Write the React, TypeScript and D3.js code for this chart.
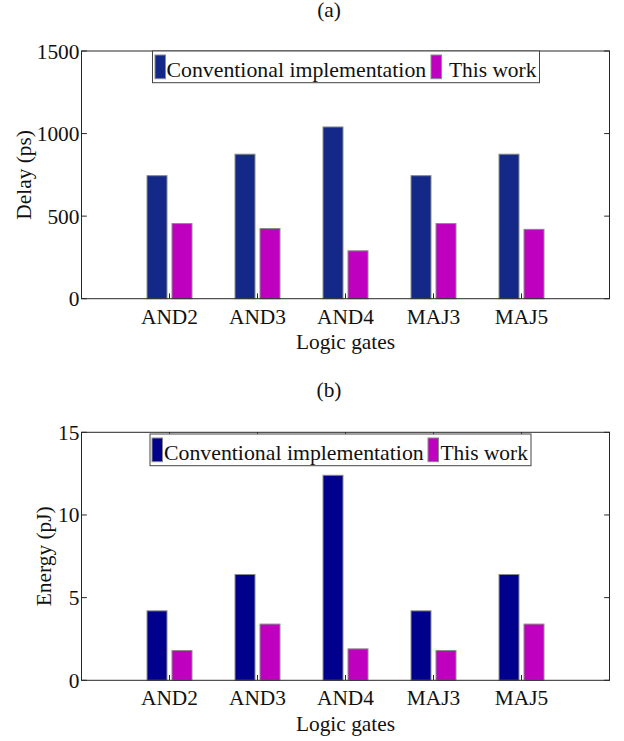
import React from "react";
import * as d3 from "d3";

const categories = ["AND2", "AND3", "AND4", "MAJ3", "MAJ5"];
const delayConventional = [745, 875, 1040, 745, 875];
const delayThisWork = [455, 425, 290, 455, 420];
const energyConventional = [4.2, 6.4, 12.4, 4.2, 6.4];
const energyThisWork = [1.8, 3.4, 1.9, 1.8, 3.4];
const delayTicks = [0, 500, 1000, 1500];
const energyTicks = [0, 5, 10, 15];
const seriesNames = ["Conventional implementation", "This work"];

const FONT = "'Liberation Serif', 'Times New Roman', serif";
const FS = 21.4;
const LEFT = 81.5;
const RIGHT = 609.5;
const TICK = 5.3;
const FRAME = "#262626";

type PanelProps = {
  title: string;
  titleY: number;
  top: number;
  bottom: number;
  conv: number[];
  mine: number[];
  ticks: number[];
  yLabel: string;
  yLabelX: number;
  convColor: string;
  legend: { x0: number; x1: number; y0: number; y1: number; sw1: number; t1: number; sw2: number; t2: number; baseline: number };
};

function Panel(p: PanelProps) {
  const x = d3.scaleLinear().domain([0, categories.length + 1]).range([LEFT, RIGHT]);
  const y = d3.scaleLinear().domain([p.ticks[0], p.ticks[p.ticks.length - 1]]).range([p.bottom, p.top]);
  const step = x(1) - x(0);
  const bw = step * 0.227;
  const off = step * 0.142;
  const L = p.legend;
  const cx = (LEFT + RIGHT) / 2;
  return (
    <g>
      <text x={329} y={p.titleY} textAnchor="middle" fontSize={FS} fontFamily={FONT} fill="#111">{p.title}</text>
      <rect x={LEFT} y={p.top} width={RIGHT - LEFT} height={p.bottom - p.top} fill="#fff" stroke="none" />
      {categories.map((c, i) => (
        <g key={c}>
          <rect x={x(i + 1) - off - bw / 2} y={y(p.conv[i])} width={bw} height={y(0) - y(p.conv[i])} fill={p.convColor} stroke="#8a8a8a" strokeWidth={1} />
          <rect x={x(i + 1) + off - bw / 2} y={y(p.mine[i])} width={bw} height={y(0) - y(p.mine[i])} fill="#BF00BF" stroke="#8a8a8a" strokeWidth={1} />
        </g>
      ))}
      <rect x={LEFT} y={p.top} width={RIGHT - LEFT} height={p.bottom - p.top} fill="none" stroke={FRAME} strokeWidth={1} />
      {categories.map((c, i) => (
        <g key={"t" + c}>
          <line x1={x(i + 1)} x2={x(i + 1)} y1={p.bottom} y2={p.bottom - TICK} stroke={FRAME} />
          <line x1={x(i + 1)} x2={x(i + 1)} y1={p.top} y2={p.top + TICK} stroke={FRAME} />
          <text x={x(i + 1)} y={p.bottom + 25} textAnchor="middle" fontSize={FS} fontFamily={FONT} fill="#111">{c}</text>
        </g>
      ))}
      {p.ticks.map((t) => (
        <g key={"y" + t}>
          <line x1={LEFT} x2={LEFT + TICK} y1={y(t)} y2={y(t)} stroke={FRAME} />
          <line x1={RIGHT} x2={RIGHT - TICK} y1={y(t)} y2={y(t)} stroke={FRAME} />
          <text x={79.5} y={y(t) + 7.5} textAnchor="end" fontSize={FS} fontFamily={FONT} fill="#111">{t}</text>
        </g>
      ))}
      <text x={cx} y={p.bottom + 50.5} textAnchor="middle" fontSize={FS} fontFamily={FONT} fill="#111">Logic gates</text>
      <text transform={`translate(${p.yLabelX},${(p.top + p.bottom) / 2}) rotate(-90)`} textAnchor="middle" fontSize={FS} fontFamily={FONT} fill="#111">{p.yLabel}</text>
      <rect x={L.x0} y={L.y0} width={L.x1 - L.x0} height={L.y1 - L.y0} fill="#fff" stroke="#444" strokeWidth={1} />
      <rect x={L.sw1} y={L.y0 + 4} width={10.5} height={L.y1 - L.y0 - 8} fill={p.convColor} stroke="#8a8a8a" />
      <text x={L.t1} y={L.baseline} fontSize={21.8} fontFamily={FONT} fill="#111">{seriesNames[0]}</text>
      <rect x={L.sw2} y={L.y0 + 4} width={10.5} height={L.y1 - L.y0 - 8} fill="#BF00BF" stroke="#8a8a8a" />
      <text x={L.t2} y={L.baseline} fontSize={21.4} fontFamily={FONT} fill="#111">{seriesNames[1]}</text>
    </g>
  );
}

export default function App() {
  return (
    <svg width={624} height={741} style={{ position: "absolute", left: 0, top: 0, background: "#fff" }}>
      <rect x={0} y={0} width={624} height={741} fill="#fff" />
      <Panel
        title="(a)"
        titleY={17}
        top={51}
        bottom={298.7}
        conv={delayConventional}
        mine={delayThisWork}
        ticks={delayTicks}
        yLabel="Delay (ps)"
        yLabelX={31}
        convColor="#142888"
        legend={{ x0: 152.5, x1: 539.5, y0: 51, y1: 82.7, sw1: 155, t1: 166.5, sw2: 431, t2: 449, baseline: 76.5 }}
      />
      <Panel
        title="(b)"
        titleY={397}
        top={432.3}
        bottom={680.3}
        conv={energyConventional}
        mine={energyThisWork}
        ticks={energyTicks}
        yLabel="Energy (pJ)"
        yLabelX={51}
        convColor="#00008C"
        legend={{ x0: 150, x1: 531, y0: 434, y1: 465.7, sw1: 152, t1: 164, sw2: 428, t2: 440.5, baseline: 460 }}
      />
    </svg>
  );
}
